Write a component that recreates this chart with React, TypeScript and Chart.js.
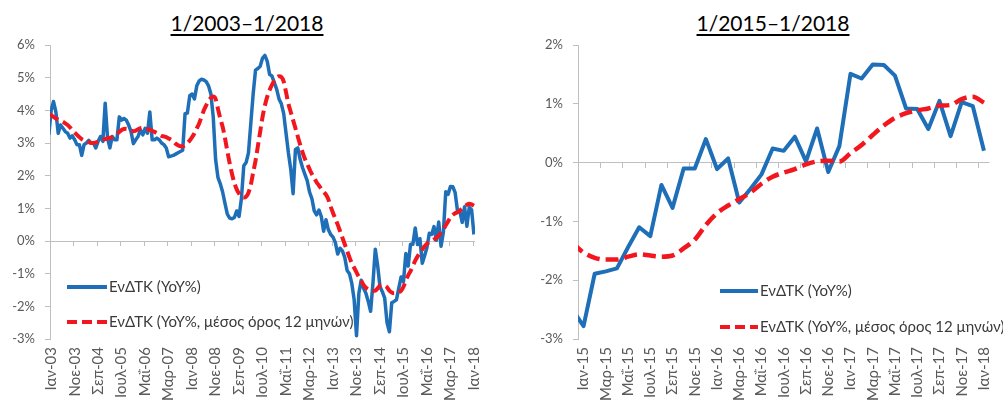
import React, { useEffect, useRef } from "react";
import { Chart, registerables } from "chart.js";

Chart.register(...registerables);

const FONT = "Lato, 'Noto Sans', 'DejaVu Sans', sans-serif";
const BLUE = "#1f6fb8";
const RED = "#f2171f";
const AXIS_GRAY = "#bfbfbf";
const TEXT_GRAY = "#595959";
const LEGEND_TEXT = "#3a3a3a";

const legendLabels = ["ΕνΔΤΚ (YoY%)", "ΕνΔΤΚ (YoY%, μέσος όρος 12 μηνών)"];

// ---------- Left panel: 1/2003–1/2018 (first value = Dec-02, partly outside the axis) ----------
const leftTitle = "1/2003–1/2018";
const leftTickStep = 10;
const leftTickLabels = [
  "Ιαν-03", "Νοε-03", "Σεπ-04", "Ιουλ-05", "Μαΐ-06", "Μαρ-07", "Ιαν-08", "Νοε-08", "Σεπ-09", "Ιουλ-10",
  "Μαΐ-11", "Μαρ-12", "Ιαν-13", "Νοε-13", "Σεπ-14", "Ιουλ-15", "Μαΐ-16", "Μαρ-17", "Ιαν-18",
];
const leftBlue = [
  3.25,
  4.0, 4.27, 3.95, 3.3, 3.55, 3.45, 3.35, 3.3, 3.15, 3.22, 3.1, 2.95,
  2.95, 2.62, 2.95, 3.0, 3.08, 3.0, 3.0, 2.85, 3.05, 3.2, 3.05, 4.22,
  3.15, 2.85, 3.2, 3.1, 3.1, 3.8, 3.7, 3.75, 3.7, 3.55, 3.35, 2.98,
  3.1, 3.2, 3.4, 3.25, 3.45, 3.3, 3.95, 3.1, 3.1, 3.15, 3.1, 3.0,
  2.95, 2.85, 2.58, 2.6, 2.62, 2.66, 2.7, 2.74, 2.78, 3.9, 3.92, 4.45,
  4.5, 4.35, 4.75, 4.9, 4.95, 4.93, 4.88, 4.75, 4.5, 3.8, 2.5, 1.95,
  1.75, 1.5, 1.15, 0.82, 0.7, 0.68, 0.72, 0.92, 0.75, 1.3, 2.3, 2.4,
  2.7, 3.6, 4.5, 5.23, 5.28, 5.35, 5.6, 5.68, 5.5, 5.1, 5.05, 4.85,
  4.65, 4.35, 4.2, 3.9, 3.3, 2.7, 2.2, 1.45, 2.8, 2.85, 2.5, 2.25,
  2.05, 1.85, 1.5, 1.3, 0.92, 0.8, 0.95, 0.75, 0.3, 0.65, 0.35, 0.2,
  0.12, -0.05, -0.4, -0.22, -0.3, -0.5, -0.9, -1.0, -1.3, -1.8, -2.9, -1.6,
  -1.2, -1.45, -1.6, -1.85, -2.15, -1.3, -0.25, -0.75, -1.4, -1.55, -1.75, -2.5,
  -2.78, -1.89, -1.85, -1.8, -1.44, -1.1, -1.25, -0.38, -0.77, -0.1, -0.1, 0.4,
  -0.11, 0.07, -0.68, -0.45, -0.2, 0.24, 0.2, 0.44, 0.02, 0.58, -0.16, 0.28,
  1.51, 1.43, 1.67, 1.66, 1.48, 0.92, 0.91, 0.57, 1.05, 0.45, 1.03, 0.96,
  0.2,
];
const leftRed = [
  3.88,
  3.85, 3.8, 3.75, 3.72, 3.68, 3.65, 3.6, 3.55, 3.48, 3.4, 3.32, 3.25,
  3.18, 3.12, 3.08, 3.05, 3.03, 3.0, 3.0, 3.02, 3.04, 3.07, 3.1, 3.12,
  3.14, 3.16, 3.18, 3.22, 3.28, 3.34, 3.4, 3.43, 3.44, 3.42, 3.38, 3.36,
  3.38, 3.42, 3.45, 3.46, 3.45, 3.43, 3.4, 3.37, 3.34, 3.3, 3.26, 3.22,
  3.2, 3.18, 3.14, 3.1, 3.05, 2.98, 2.93, 2.9, 2.9, 2.93, 3.0, 3.08,
  3.18, 3.3, 3.45, 3.6, 3.8, 4.0, 4.15, 4.3, 4.38, 4.42, 4.35, 4.05,
  3.75, 3.5, 3.15, 2.75, 2.38, 2.05, 1.78, 1.58, 1.45, 1.36, 1.33, 1.36,
  1.48, 1.72, 2.1, 2.45, 2.9, 3.35, 3.8, 4.15, 4.42, 4.62, 4.78, 4.9,
  5.0, 5.04, 5.02, 4.88, 4.55, 4.2, 3.95, 3.7, 3.45, 3.2, 2.95, 2.72,
  2.52, 2.36, 2.2, 2.05, 1.93, 1.8, 1.7, 1.6, 1.5, 1.42, 1.28, 1.05,
  0.86, 0.68, 0.5, 0.3, 0.1, -0.1, -0.3, -0.5, -0.68, -0.82, -0.96, -1.1,
  -1.22, -1.34, -1.43, -1.48, -1.51, -1.53, -1.52, -1.45, -1.37, -1.35, -1.37, -1.42,
  -1.52, -1.58, -1.6, -1.6, -1.57, -1.52, -1.4, -1.2, -1.05, -0.92, -0.76, -0.6,
  -0.47, -0.37, -0.26, -0.16, -0.08, -0.03, 0.01, 0.05, 0.09, 0.17, 0.26, 0.36,
  0.48, 0.6, 0.72, 0.8, 0.85, 0.88, 0.93, 1.0, 1.06, 1.11, 1.14, 1.12,
  1.08,
];

// ---------- Right panel: 1/2015–1/2018 (first value = Dec-14, partly outside the axis) ----------
const rightTitle = "1/2015–1/2018";
const rightTickStep = 2;
const rightTickLabels = [
  "Ιαν-15", "Μαρ-15", "Μαΐ-15", "Ιουλ-15", "Σεπ-15", "Νοε-15", "Ιαν-16", "Μαρ-16", "Μαΐ-16", "Ιουλ-16",
  "Σεπ-16", "Νοε-16", "Ιαν-17", "Μαρ-17", "Μαΐ-17", "Ιουλ-17", "Σεπ-17", "Νοε-17", "Ιαν-18",
];
const rightBlue = [
  -2.5,
  -2.78, -1.89, -1.85, -1.8, -1.44, -1.1, -1.25, -0.38, -0.77, -0.1, -0.1, 0.4,
  -0.11, 0.07, -0.68, -0.45, -0.2, 0.24, 0.2, 0.44, 0.02, 0.58, -0.16, 0.28,
  1.51, 1.43, 1.67, 1.66, 1.48, 0.92, 0.91, 0.57, 1.05, 0.45, 1.03, 0.96,
  0.2,
];
const rightRed = [
  -1.37,
  -1.53, -1.62, -1.65, -1.65, -1.6, -1.56, -1.58, -1.6, -1.58, -1.46, -1.31, -1.06,
  -0.86, -0.73, -0.62, -0.51, -0.36, -0.24, -0.17, -0.11, -0.03, 0.02, 0.03, 0.02,
  0.16, 0.3, 0.47, 0.63, 0.76, 0.84, 0.89, 0.92, 0.97, 0.98, 1.08, 1.12,
  1.02,
];

const decorPlugin = {
  id: "decor",
  beforeDatasetsDraw(chart: any) {
    const { ctx } = chart;
    const xs = chart.scales.x;
    const ys = chart.scales.y;
    const y0 = ys.getPixelForValue(0);
    ctx.save();
    ctx.strokeStyle = AXIS_GRAY;
    ctx.lineWidth = 1;
    xs.ticks.forEach((t: any) => {
      const px = Math.round(xs.getPixelForValue(t.value - 0.5)) + 0.5;
      ctx.beginPath();
      ctx.moveTo(px, Math.round(y0));
      ctx.lineTo(px, Math.round(y0) + 5);
      ctx.stroke();
    });
    ctx.restore();
  },
  afterDraw(chart: any, _args: any, opts: any) {
    const L = opts && opts.legend;
    if (!L) return;
    const { ctx } = chart;
    ctx.save();
    ctx.lineWidth = 4;
    ctx.lineCap = "butt";
    ctx.strokeStyle = BLUE;
    ctx.setLineDash([]);
    ctx.beginPath();
    ctx.moveTo(L.x, L.y1);
    ctx.lineTo(L.x + L.len, L.y1);
    ctx.stroke();
    ctx.strokeStyle = RED;
    ctx.setLineDash([10, 5]);
    ctx.beginPath();
    ctx.moveTo(L.x, L.y2);
    ctx.lineTo(L.x + L.len, L.y2);
    ctx.stroke();
    ctx.setLineDash([]);
    ctx.fillStyle = LEGEND_TEXT;
    ctx.font = `15px ${FONT}`;
    ctx.textBaseline = "middle";
    ctx.textAlign = "left";
    ctx.fillText(legendLabels[0], L.x + L.len + 2, L.y1);
    ctx.fillText(legendLabels[1], L.x + L.len + 2, L.y2);
    ctx.restore();
  },
};

type PanelProps = {
  blue: number[];
  red: number[];
  tickLabels: string[];
  tickStep: number;
  yMin: number;
  yMax: number;
  yWidth: number;
  padRight: number;
  blueWidth: number;
  redWidth: number;
  dash: number[];
  legend: { x: number; y1: number; y2: number; len: number };
};

function Panel(props: PanelProps) {
  const ref = useRef<HTMLCanvasElement>(null);
  useEffect(() => {
    if (!ref.current) return;
    const toPts = (arr: number[]) => arr.map((v, k) => ({ x: k - 1, y: v }));
    const lastIdx = props.blue.length - 2;
    const tickValues = props.tickLabels.map((_, k) => k * props.tickStep);
    const chart = new Chart(ref.current, {
      type: "line",
      data: {
        datasets: [
          {
            label: legendLabels[0],
            data: toPts(props.blue),
            borderColor: BLUE,
            backgroundColor: BLUE,
            borderWidth: props.blueWidth,
            pointRadius: 0,
            tension: 0,
            borderJoinStyle: "round",
            order: 1,
          },
          {
            label: legendLabels[1],
            data: toPts(props.red),
            borderColor: RED,
            backgroundColor: RED,
            borderWidth: props.redWidth,
            borderDash: props.dash,
            pointRadius: 0,
            cubicInterpolationMode: "monotone",
            order: 0,
          },
        ],
      },
      options: {
        responsive: true,
        maintainAspectRatio: false,
        animation: false,
        layout: { padding: { left: 0, right: props.padRight, top: 45, bottom: 0 } },
        plugins: {
          legend: { display: false },
          tooltip: { enabled: false },
          title: { display: false },
          decor: { legend: props.legend },
        } as any,
        scales: {
          x: {
            type: "linear",
            min: -0.5,
            max: lastIdx + 0.5,
            afterBuildTicks: (s: any) => {
              s.ticks = tickValues.map((v) => ({ value: v }));
            },
            afterFit: (s: any) => {
              s.height = 61;
            },
            grid: { display: false, drawTicks: false },
            border: { display: false },
            ticks: {
              autoSkip: false,
              minRotation: 90,
              maxRotation: 90,
              padding: 8,
              color: TEXT_GRAY,
              font: { family: FONT, size: 15 },
              callback: (_v: any, i: number) => props.tickLabels[i] ?? "",
            },
          },
          y: {
            min: props.yMin,
            max: props.yMax,
            afterFit: (s: any) => {
              s.width = props.yWidth;
            },
            ticks: {
              stepSize: 1,
              padding: 10,
              color: TEXT_GRAY,
              font: { family: FONT, size: 13 },
              callback: (v: any) => `${v}%`,
            },
            grid: {
              color: (c: any) => (c.tick && c.tick.value === 0 ? AXIS_GRAY : "rgba(0,0,0,0)"),
              tickColor: AXIS_GRAY,
              tickLength: 5,
              lineWidth: 1,
            },
            border: { display: true, color: AXIS_GRAY, width: 1 },
          },
        },
      } as any,
      plugins: [decorPlugin],
    });
    return () => chart.destroy();
  }, []);
  return <canvas ref={ref} />;
}

const titleStyle: React.CSSProperties = {
  position: "absolute",
  top: 12,
  width: 240,
  textAlign: "center",
  fontFamily: FONT,
  fontSize: 21,
  lineHeight: "22px",
  color: "#000",
  textDecoration: "underline",
  textDecorationThickness: "1.5px",
  textUnderlineOffset: "3px",
  whiteSpace: "nowrap",
};

export default function App() {
  return (
    <div
      style={{
        position: "absolute",
        left: 0,
        top: 0,
        width: 1003,
        height: 400,
        overflow: "hidden",
        background: "#fff",
      }}
    >
      <div style={{ ...titleStyle, left: 247 - 120 }}>{leftTitle}</div>
      <div style={{ ...titleStyle, left: 773 - 120 }}>{rightTitle}</div>
      <div style={{ position: "absolute", left: 0, top: 0, width: 500, height: 400 }}>
        <Panel
          blue={leftBlue}
          red={leftRed}
          tickLabels={leftTickLabels}
          tickStep={leftTickStep}
          yMin={-3}
          yMax={6}
          yWidth={50}
          padRight={20}
          blueWidth={3.5}
          redWidth={4}
          dash={[11, 5]}
          legend={{ x: 67, y1: 287, y2: 322, len: 40 }}
        />
      </div>
      <div style={{ position: "absolute", left: 500, top: 0, width: 510, height: 400 }}>
        <Panel
          blue={rightBlue}
          red={rightRed}
          tickLabels={rightTickLabels}
          tickStep={rightTickStep}
          yMin={-3}
          yMax={2}
          yWidth={78}
          padRight={4}
          blueWidth={4}
          redWidth={4.5}
          dash={[13, 6]}
          legend={{ x: 220, y1: 291, y2: 327, len: 38 }}
        />
      </div>
    </div>
  );
}
